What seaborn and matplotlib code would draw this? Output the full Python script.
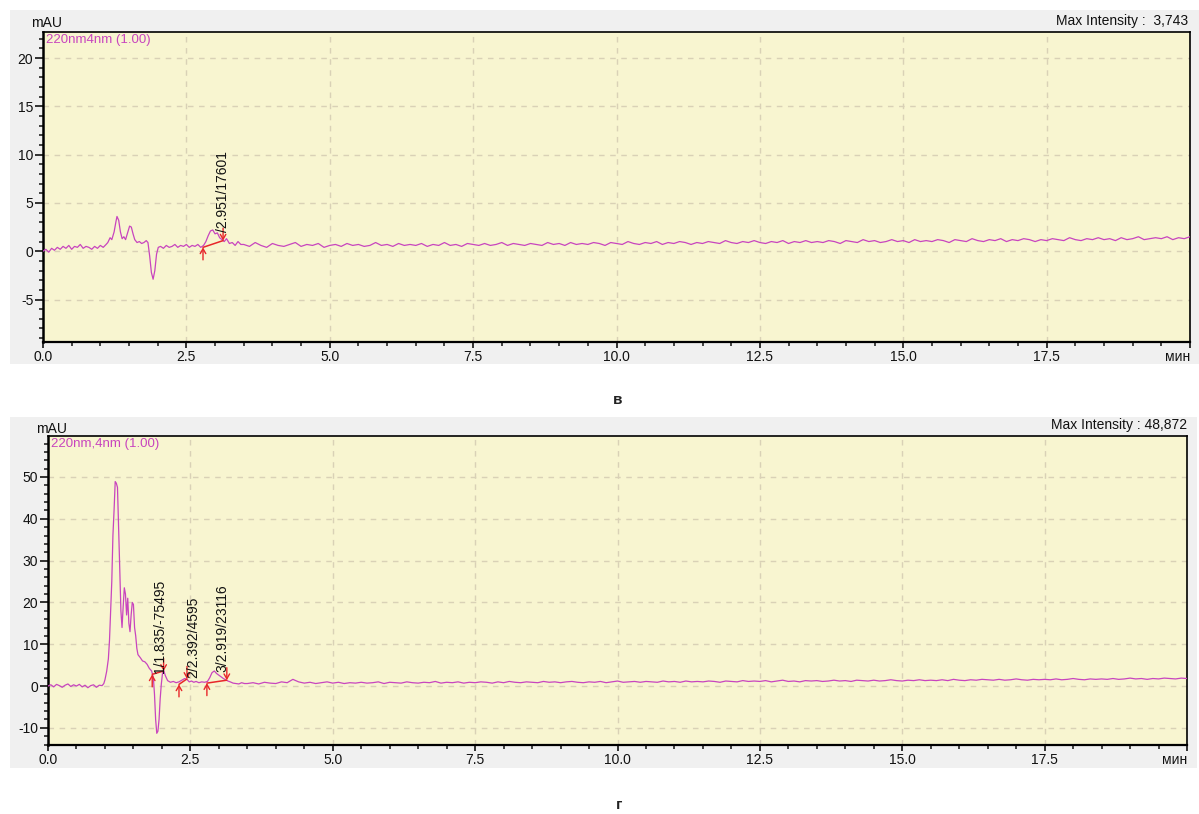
import numpy as np
import pandas as pd
import matplotlib
matplotlib.use("Agg")
import matplotlib.pyplot as plt
from matplotlib.patches import Rectangle
from matplotlib.ticker import MultipleLocator
import seaborn as sns

# ---------------- data ----------------
# Panel "в": early part and peak region (explicit times / values, mAU)
top_t_early = [0.00, 0.05, 0.10, 0.15, 0.20, 0.25, 0.30, 0.35, 0.40, 0.45, 0.50, 0.55,
               0.60, 0.65, 0.70, 0.75, 0.80, 0.85, 0.90, 0.95, 1.00, 1.05, 1.10,
               1.13, 1.17, 1.20, 1.24, 1.27, 1.29, 1.32, 1.35, 1.38, 1.41, 1.44, 1.48,
               1.51, 1.54, 1.57, 1.60, 1.64, 1.68, 1.72, 1.76, 1.80, 1.83, 1.86, 1.89,
               1.92, 1.95, 1.98, 2.01, 2.05, 2.10, 2.15, 2.20, 2.25, 2.30, 2.35, 2.40,
               2.45, 2.50, 2.55, 2.60, 2.65, 2.70, 2.75, 2.80, 2.84, 2.88, 2.92, 2.96,
               3.00, 3.04, 3.08, 3.12, 3.16, 3.20, 3.25, 3.30, 3.35, 3.40, 3.45]
top_v_early = [0.0, 0.2, -0.1, 0.3, 0.1, 0.4, 0.2, 0.5, 0.3, 0.6, 0.2, 0.5,
               0.4, 0.7, 0.3, 0.5, 0.4, 0.2, 0.5, 0.3, 0.6, 0.4, 0.7,
               0.9, 1.4, 1.2, 2.0, 3.0, 3.6, 3.2, 2.0, 1.3, 1.5, 1.2, 2.0,
               2.6, 2.5, 1.8, 1.2, 0.9, 1.0, 0.8, 0.9, 1.1, 0.9, -0.5, -2.2,
               -2.9, -2.0, -0.3, 0.4, 0.5, 0.3, 0.6, 0.4, 0.5, 0.7, 0.4, 0.6,
               0.5, 0.7, 0.4, 0.6, 0.5, 0.7, 0.4, 0.6, 1.0, 1.6, 2.1, 2.2,
               1.8, 1.9, 1.4, 1.2, 1.0, 1.3, 0.8, 0.9, 0.6, 1.0, 0.7]
# Panel "в": baseline 3.5 .. 20.0 min, one reading every 0.1 min
top_v_base = [0.7, 0.5, 0.9, 0.6, 0.4, 0.8, 0.6, 0.5, 0.7, 0.9,
              0.5, 0.7, 0.6, 0.8, 0.4, 0.6, 0.7, 0.5, 0.8, 0.6,
              0.7, 0.5, 0.6, 0.9, 0.6, 0.7, 0.5, 0.8, 0.6, 0.7,
              0.6, 0.8, 0.5, 0.7, 0.6, 0.9, 0.6, 0.7, 0.5, 0.8,
              0.7, 0.6, 0.8, 0.6, 0.7, 0.9, 0.6, 0.8, 0.7, 0.6,
              0.8, 0.7, 0.6, 0.9, 0.7, 0.8, 0.6, 0.9, 0.7, 0.8,
              0.7, 0.9, 0.8, 0.6, 0.9, 0.8, 0.7, 1.0, 0.8, 0.7,
              0.9, 0.8, 1.0, 0.7, 0.9, 0.8, 1.0, 0.9, 0.7, 0.9,
              0.8, 1.0, 0.9, 0.8, 1.1, 0.9, 0.8, 1.0, 0.9, 1.1,
              0.9, 0.8, 1.0, 0.9, 1.1, 0.8, 1.0, 0.9, 1.1, 0.9,
              1.0, 0.9, 1.1, 1.0, 0.8, 1.1, 1.0, 0.9, 1.2, 1.0,
              1.1, 0.9, 1.0, 1.2, 1.0, 1.1, 0.9, 1.2, 1.0, 1.1,
              1.0, 1.2, 1.1, 0.9, 1.2, 1.1, 1.0, 1.3, 1.1, 1.0,
              1.2, 1.1, 1.3, 1.0, 1.2, 1.1, 1.3, 1.2, 1.0, 1.2,
              1.1, 1.3, 1.2, 1.1, 1.4, 1.2, 1.1, 1.3, 1.2, 1.4,
              1.2, 1.3, 1.1, 1.4, 1.2, 1.3, 1.5, 1.2, 1.3, 1.4,
              1.3, 1.5, 1.2, 1.4, 1.3, 1.5]

# Panel "г": early part and peak region
bot_t_early = [0.00, 0.05, 0.10, 0.15, 0.20, 0.25, 0.30, 0.35, 0.40, 0.45, 0.50, 0.55,
               0.60, 0.65, 0.70, 0.75, 0.80, 0.85, 0.90, 0.95,
               0.98, 1.00, 1.03, 1.06, 1.08, 1.10, 1.12, 1.14, 1.16, 1.18, 1.20, 1.22,
               1.24, 1.26, 1.28, 1.30, 1.32, 1.34, 1.36, 1.38, 1.40, 1.42, 1.44, 1.46,
               1.48, 1.50, 1.52, 1.54, 1.56, 1.58, 1.62, 1.66, 1.70, 1.74, 1.78, 1.82,
               1.85, 1.87, 1.89, 1.91, 1.93, 1.95, 1.97, 1.99, 2.01, 2.03, 2.06, 2.10,
               2.15, 2.20, 2.25, 2.30, 2.35, 2.40, 2.44, 2.48, 2.52, 2.56, 2.60, 2.65,
               2.70, 2.75, 2.80, 2.84, 2.88, 2.92, 2.96, 3.00, 3.04, 3.08, 3.12, 3.16,
               3.20, 3.25, 3.30, 3.35, 3.40, 3.45]
bot_v_early = [0.0, 0.3, -0.2, 0.4, 0.1, -0.3, 0.2, 0.5, -0.1, 0.3, 0.0, 0.4,
               -0.2, 0.2, -0.4, 0.1, 0.3, -0.3, 0.2, 0.1,
               0.6, 1.5, 3.5, 6.5, 11.0, 18.0, 25.0, 36.0, 42.0, 48.9, 48.5, 47.5,
               38.0, 28.0, 18.0, 14.0, 19.0, 23.5, 22.0, 17.0, 21.0, 15.0, 13.0, 17.0,
               20.0, 19.5, 14.0, 12.0, 9.0, 7.5, 6.8, 6.0, 5.8, 5.2, 4.2, 3.6,
               2.0, -2.0, -8.0, -11.3, -10.8, -8.0, -3.0, 0.5, 3.0, 3.8, 2.5, 1.3,
               0.9, 1.1, 0.8, 1.0, 1.4, 1.8, 1.6, 1.0, 1.2, 0.9, 1.1, 0.8,
               1.0, 0.9, 1.1, 2.0, 3.2, 3.6, 3.0, 2.6, 2.2, 1.8, 1.5, 1.2,
               1.0, 0.7, 0.6, 0.5, 0.8, 0.6]
bot_v_base = [0.6, 0.8, 0.5, 0.9, 0.7, 0.6, 1.0, 0.8, 1.6, 1.0,
              0.7, 0.9, 0.6, 0.8, 1.0, 0.7, 0.9, 0.6, 0.8, 0.7,
              0.9, 0.7, 0.8, 1.0, 0.6, 0.9, 0.8, 0.7, 1.0, 0.8,
              0.7, 0.9, 0.8, 1.1, 0.7, 0.9, 0.8, 1.0, 0.7, 0.9,
              0.8, 1.0, 0.9, 0.7, 1.0, 0.8, 1.1, 0.9, 0.8, 1.0,
              0.9, 0.8, 1.1, 0.9, 1.0, 0.8, 1.0, 1.1, 0.9, 0.8,
              1.0, 0.9, 1.1, 0.8, 1.0, 1.2, 0.9, 1.0, 1.1, 0.9,
              1.1, 1.0, 0.9, 1.2, 1.0, 1.1, 0.9, 1.2, 1.0, 1.1,
              1.0, 1.2, 1.1, 0.9, 1.2, 1.1, 1.0, 1.3, 1.1, 1.2,
              1.1, 1.3, 1.0, 1.2, 1.4, 1.1, 1.2, 1.0, 1.3, 1.2,
              1.3, 1.1, 1.2, 1.4, 1.2, 1.3, 1.1, 1.4, 1.3, 1.2,
              1.4, 1.2, 1.3, 1.5, 1.3, 1.2, 1.4, 1.3, 1.5, 1.3,
              1.4, 1.3, 1.5, 1.3, 1.6, 1.4, 1.3, 1.5, 1.4, 1.6,
              1.5, 1.4, 1.6, 1.4, 1.5, 1.7, 1.5, 1.4, 1.6, 1.5,
              1.6, 1.5, 1.7, 1.5, 1.6, 1.8, 1.6, 1.5, 1.7, 1.6,
              1.7, 1.6, 1.8, 1.6, 1.7, 1.9, 1.7, 1.8, 1.6, 1.8,
              1.7, 1.9, 1.8, 1.7, 1.9, 1.8]

base_t = [round(3.5 + 0.1 * i, 2) for i in range(len(top_v_base))]

# Peak integration marks: start points, end points, labels
top_start_t, top_start_v = [2.79], [0.4]
top_end_t, top_end_v = [3.14], [1.1]
top_labels = ["/2.951/17601"]
top_label_t, top_label_v = [3.14], [2.0]

bot_start_t, bot_start_v = [1.83, 2.30, 2.79], [2.8, 0.4, 0.7]
bot_end_t, bot_end_v = [2.03, 2.44, 3.14], [3.6, 1.7, 1.4]
bot_labels = ["1/1.835/-75495", "2/2.392/4595", "3/2.919/23116"]
bot_label_t, bot_label_v = [1.97, 2.55, 3.07], [3.1, 1.9, 3.4]

x_ticks = [0.0, 2.5, 5.0, 7.5, 10.0, 12.5, 15.0, 17.5, 20.0]
x_ticklabels = ["0.0", "2.5", "5.0", "7.5", "10.0", "12.5", "15.0", "17.5", "мин"]

# ---------------- style ----------------
sns.set_style("ticks")
plt.rcParams['font.family'] = ['Liberation Sans', 'DejaVu Sans']
plt.rcParams['axes.unicode_minus'] = False

MAG = '#C845BE'
RED = '#E8262A'
FACE = '#F8F5D0'
PANEL = '#F0F0F0'
GRID = '#D9D1B6'

fig = plt.figure(figsize=(11.99, 8.14), dpi=100)
fig.patch.set_facecolor('white')
for rect in ([10/1199, 1-364/814, 1189/1199, 354/814],
             [10/1199, 1-768/814, 1187/1199, 351/814]):
    fig.patches.append(Rectangle((rect[0], rect[1]), rect[2], rect[3],
                                 transform=fig.transFigure, facecolor=PANEL,
                                 edgecolor='none', zorder=-5))

ax1 = fig.add_axes([43/1199, 1-342/814, 1147/1199, 310/814])
ax2 = fig.add_axes([48/1199, 1-745/814, 1139/1199, 309/814])
ax1.set_zorder(2)
ax2.set_zorder(2)

df_top = pd.DataFrame({'t': top_t_early + base_t, 'v': top_v_early + top_v_base})
df_bot = pd.DataFrame({'t': bot_t_early + base_t, 'v': bot_v_early + bot_v_base})


def style_axes(ax, ylim, ymaj, ymin):
    ax.set_facecolor(FACE)
    ax.set_xlim(0, 20)
    ax.set_ylim(*ylim)
    ax.set_xticks(x_ticks, x_ticklabels)
    ax.xaxis.set_minor_locator(MultipleLocator(0.5))
    ax.yaxis.set_major_locator(MultipleLocator(ymaj))
    ax.yaxis.set_minor_locator(MultipleLocator(ymin))
    ax.tick_params(axis='y', which='major', length=6, width=1.2, pad=1,
                   labelsize=10, colors='#111111', direction='out')
    ax.tick_params(axis='y', which='minor', length=3, width=1.2, direction='out')
    ax.tick_params(axis='x', which='major', length=4, width=1.2, pad=2,
                   labelsize=10, colors='#111111', direction='out')
    ax.tick_params(axis='x', which='minor', length=3, width=1.2, direction='out')
    ax.get_xticklabels()[-1].set_ha('right')
    ax.grid(True, which='major', linestyle=(0, (4, 4)), color=GRID, linewidth=1)
    ax.set_axisbelow(True)
    for s in ax.spines.values():
        s.set_color('#000000')
        s.set_linewidth(1.2)
    ax.spines['left'].set_linewidth(1.8)
    ax.spines['bottom'].set_linewidth(1.6)
    ax.set_xlabel('')
    ax.set_ylabel('')


def marks(ax, st, sv, et, ev, labels, lt, lv):
    for a, b, c, d in zip(st, sv, et, ev):
        ax.plot([a, c], [b, d], color=RED, lw=1.1, zorder=4)
        ax.annotate('', xy=(a, b), xytext=(0, -9), textcoords='offset points',
                    arrowprops=dict(arrowstyle='->,head_length=0.35,head_width=0.2',
                                    color=RED, lw=1.0, shrinkA=0, shrinkB=0), zorder=5)
        ax.annotate('', xy=(c, d), xytext=(0, 9), textcoords='offset points',
                    arrowprops=dict(arrowstyle='->,head_length=0.35,head_width=0.2',
                                    color=RED, lw=1.0, shrinkA=0, shrinkB=0), zorder=5)
    for txt, x, y in zip(labels, lt, lv):
        ax.text(x, y, txt, rotation=90, ha='center', va='bottom', fontsize=10,
                color='#111111', zorder=6)


sns.lineplot(data=df_top, x='t', y='v', ax=ax1, color=MAG, linewidth=0.9,
             estimator=None, sort=False, legend=False, zorder=3)
style_axes(ax1, (-9.4, 22.7), 5, 1)
marks(ax1, top_start_t, top_start_v, top_end_t, top_end_v, top_labels, top_label_t, top_label_v)

sns.lineplot(data=df_bot, x='t', y='v', ax=ax2, color=MAG, linewidth=0.9,
             estimator=None, sort=False, legend=False, zorder=3)
style_axes(ax2, (-14.1, 59.8), 10, 2)
marks(ax2, bot_start_t, bot_start_v, bot_end_t, bot_end_v, bot_labels, bot_label_t, bot_label_v)

# header texts
ax1.text(0.003, 0.995, '220nm4nm (1.00)', transform=ax1.transAxes, ha='left', va='top',
         fontsize=9.5, color=MAG)
ax2.text(0.003, 0.995, '220nm,4nm (1.00)', transform=ax2.transAxes, ha='left', va='top',
         fontsize=9.5, color=MAG)
fig.text(47/1199, 1-23/814, 'mAU', ha='center', va='center', fontsize=10, color='#111111')
fig.text(52/1199, 1-429/814, 'mAU', ha='center', va='center', fontsize=10, color='#111111')
fig.text(1188/1199, 1-21/814, 'Max Intensity :  3,743', ha='right', va='center',
         fontsize=10, color='#111111')
fig.text(1187/1199, 1-425/814, 'Max Intensity : 48,872', ha='right', va='center',
         fontsize=10, color='#111111')
fig.text(618/1199, 1-400/814, 'в', ha='center', va='center', fontsize=11,
         fontweight='bold', color='#222222')
fig.text(619/1199, 1-805/814, 'г', ha='center', va='center', fontsize=11,
         fontweight='bold', color='#222222')

fig.savefig('out.png', dpi=100)
